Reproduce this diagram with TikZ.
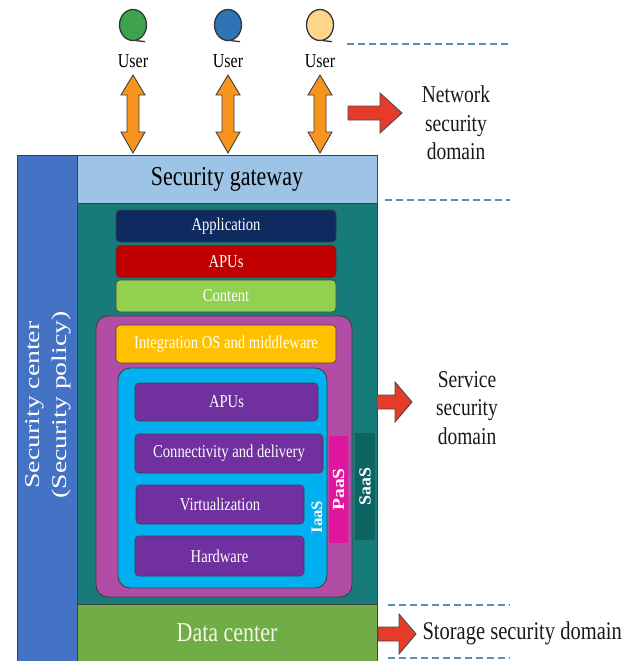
\documentclass[tikz,border=0pt]{standalone}
\usepackage{fontspec}
\setmainfont{Liberation Serif}
\usetikzlibrary{shapes.geometric}
\newcommand{\vs}[1]{\scalebox{1}[1.24]{#1}}
\newcommand{\hs}[2]{\scalebox{#1}[1]{#2}}
\definecolor{secblue}{HTML}{4472C4}
\definecolor{gate}{HTML}{9DC3E6}
\definecolor{tealbg}{HTML}{177B7A}
\definecolor{saas}{HTML}{0E6463}
\definecolor{dcgreen}{HTML}{70AD47}
\definecolor{dctext}{HTML}{F2F9E6}
\definecolor{navy}{HTML}{0E2A5E}
\definecolor{apured}{HTML}{C00000}
\definecolor{contgreen}{HTML}{92D050}
\definecolor{magbox}{HTML}{B24DA6}
\definecolor{integ}{HTML}{FFC000}
\definecolor{iaas}{HTML}{00B0F0}
\definecolor{purp}{HTML}{7030A0}
\definecolor{paas}{HTML}{E0169E}
\definecolor{dashc}{HTML}{5B8FAE}
\definecolor{redarr}{HTML}{E63A2B}
\definecolor{orarr}{HTML}{F7941D}
\definecolor{ugreen}{HTML}{3FA34D}
\definecolor{ublue}{HTML}{2E75B6}
\definecolor{utan}{HTML}{FFD58A}
\begin{document}
\begin{tikzpicture}[x=1pt,y=-1pt,
  area/.style={draw=black!75, line width=0.6pt, inner sep=0pt},
  layer/.style={draw=black!75, line width=0.6pt, rounded corners=4pt, inner sep=0pt, text=white, font=\fontsize{14.6}{16}\selectfont},
  bigtxt/.style={font=\fontsize{22}{24}\selectfont},
  domtxt/.style={align=center, font=\fontsize{19.5}{28.5}\selectfont, text=black!90},
  vbar/.style={inner sep=0pt, text=white, font=\bfseries\fontsize{17}{18}\selectfont},
  dashln/.style={draw=dashc, line width=2pt, dash pattern=on 7pt off 4pt},
  redblock/.style={fill=redarr, draw=black!70, line width=0.9pt, line join=miter},
  orblock/.style={fill=orarr, draw=black!75, line width=0.9pt},
  usr/.style={draw=black!80, line width=1.3pt, ellipse, minimum width=27pt, minimum height=31pt, inner sep=0pt},
  usrtxt/.style={font=\fontsize{16}{17}\selectfont}
]
\useasboundingbox (0,0) rectangle (622,661);

% main areas
\node[area, fill=secblue, minimum width=60pt, minimum height=506pt] (seccenter) at (47,408) {};
\node[text=white, rotate=90, align=center, font=\fontsize{21}{27}\selectfont] (seclabel) at (48,405) {\hs{1.32}{Security center}\\\hs{1.32}{(Security policy)}};
\node[area, fill=gate, minimum width=300pt, minimum height=48pt, bigtxt] (gateway) at (227,179) {\vs{Security gateway}};
\node[area, fill=tealbg, minimum width=300pt, minimum height=401pt] (service) at (227,403.5) {};
\node[area, fill=dcgreen, minimum width=300pt, minimum height=57pt, bigtxt, text=dctext] (datacenter) at (227,632.5) {\vs{Data center}};

% upper layers
\node[layer, fill=navy, minimum width=220pt, minimum height=32pt] (app) at (226,226) {\vs{Application}};
\node[layer, fill=apured, minimum width=220pt, minimum height=32pt] (apus1) at (226,261.5) {\vs{APUs}};
\node[layer, fill=contgreen, minimum width=220pt, minimum height=32pt] (content) at (226,296) {\vs{Content}};

% PaaS / SaaS bars
\node[vbar, fill=saas, minimum width=20pt, minimum height=107pt] (saasbar) at (365,486.5) {};
\node[vbar, rotate=90] (saaslbl) at (saasbar) {\hs{1.05}{SaaS}};

\node[area, fill=magbox, rounded corners=12pt, minimum width=256pt, minimum height=281pt, line width=0.9pt] (platform) at (224,456.5) {};
\node[vbar, fill=paas, minimum width=19pt, minimum height=107pt] (paasbar) at (338.5,489.5) {};
\node[vbar, rotate=90] (paaslbl) at (paasbar) {\hs{1.15}{PaaS}};
\node[layer, fill=integ, minimum width=220pt, minimum height=38pt] (integ) at (226,344) {\vs{Integration OS and middleware}};

\node[area, fill=iaas, rounded corners=12pt, minimum width=209pt, minimum height=220pt, line width=0.9pt] (infra) at (222.5,478) {};
\node[vbar, rotate=90, font=\bfseries\fontsize{16}{18}\selectfont] (iaaslbl) at (317,517) {\hs{1.05}{IaaS}};

\node[layer, fill=purp, minimum width=183pt, minimum height=38pt] (apus2) at (226.5,402) {\vs{APUs}};
\node[layer, fill=purp, minimum width=188pt, minimum height=39pt] (conn) at (229,453.5) {\vs{Connectivity and delivery}};
\node[layer, fill=purp, minimum width=168pt, minimum height=39pt] (virt) at (220,504.5) {\vs{Virtualization}};
\node[layer, fill=purp, minimum width=169pt, minimum height=40pt] (hw) at (219.5,556) {\vs{Hardware}};

% users
\foreach \n/\cx/\col in {u1/133/ugreen, u2/228/ublue, u3/320/utan}{
  \node[usr, fill=\col] (\n) at (\cx,25) {};
  \draw[black!80, line width=1.3pt] ([xshift=3pt,yshift=0.5pt]\n.south) -- ++(9,1);
  \node[usrtxt] (\n txt) at (\cx,61) {\vs{User}};
  \draw[orblock] (\cx,75) -- (\cx+12,95) -- (\cx+6,95) -- (\cx+6,132) -- (\cx+12,132) -- (\cx,153)
     -- (\cx-12,132) -- (\cx-6,132) -- (\cx-6,95) -- (\cx-12,95) -- cycle;
}

% dashed separators
\coordinate (d1a) at (347,44);  \coordinate (d1b) at (510,44);
\coordinate (d2a) at (385,200); \coordinate (d2b) at (510,200);
\coordinate (d3a) at (388,605); \coordinate (d3b) at (510,605);
\coordinate (d4a) at (388,658); \coordinate (d4b) at (510,658);
\draw[dashln] (d1a) -- (d1b);
\draw[dashln] (d2a) -- (d2b);
\draw[dashln] (d3a) -- (d3b);
\draw[dashln] (d4a) -- (d4b);

% red block arrows
\draw[redblock] (348,106) -- (380,106) -- (380,93) -- (402,113) -- (380,133) -- (380,120) -- (348,120) -- cycle;
\draw[redblock] (377,395) -- (395,395) -- (395,382) -- (412,402) -- (395,422) -- (395,409) -- (377,409) -- cycle;
\draw[redblock] (378,627) -- (399,627) -- (399,614) -- (416,634) -- (399,654) -- (399,641) -- (378,641) -- cycle;

% domain labels
\node[domtxt] (netdom) at (456,123) {\vs{Network}\\\vs{security}\\\vs{domain}};
\node[domtxt] (servdom) at (467,408) {\vs{Service}\\\vs{security}\\\vs{domain}};
\node[domtxt, anchor=west, font=\fontsize{20.5}{24}\selectfont] (stordom) at (419,633) {\vs{Storage security domain}};
\end{tikzpicture}
\end{document}
